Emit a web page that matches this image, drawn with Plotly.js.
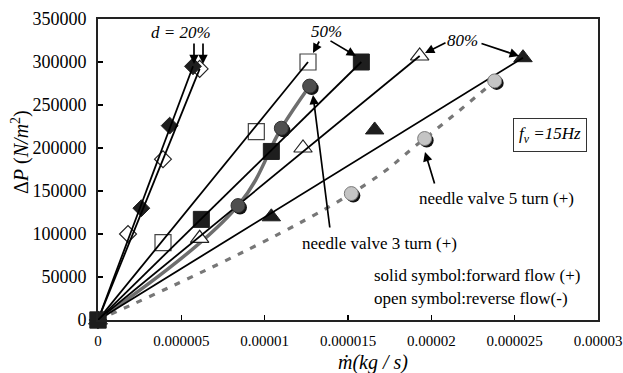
<!DOCTYPE html>
<html>
<head>
<meta charset="utf-8">
<script src="https://cdn.plot.ly/plotly-3.0.1.min.js"></script>
<style>
  html, body { margin: 0; padding: 0; background: #fff; }
  #chart { width: 623px; height: 373px; }
</style>
</head>
<body>
<div id="chart"></div>
<script>
// Pressure drop vs. mass flow rate, fv = 15 Hz
// d = 20 %, forward (solid) and reverse (open)
const d20FwdX = [0, 2.6e-6, 4.3e-6, 5.7e-6];
const d20FwdY = [0, 130000, 226000, 295000];
const d20RevX = [0, 1.8e-6, 3.9e-6, 6.1e-6];
const d20RevY = [0, 100000, 187000, 292000];
// d = 50 %
const d50FwdX = [0, 6.2e-6, 10.4e-6, 15.8e-6];
const d50FwdY = [0, 117000, 196000, 300000];
const d50RevX = [0, 3.9e-6, 9.5e-6, 12.6e-6];
const d50RevY = [0, 90000, 219000, 300000];
// d = 80 %
const d80FwdX = [0, 10.4e-6, 16.6e-6, 25.5e-6];
const d80FwdY = [0, 120000, 221000, 305000];
const d80RevX = [0, 6.1e-6, 12.3e-6, 19.3e-6];
const d80RevY = [0, 95000, 200000, 307000];
// needle valves, forward flow
const nv3X = [0, 8.4e-6, 11.0e-6, 12.7e-6];
const nv3Y = [0, 133000, 223000, 272000];
const nv5X = [0, 15.2e-6, 19.6e-6, 23.8e-6];
const nv5Y = [0, 147000, 211000, 278000];

const xTickVals = [0, 0.000005, 0.00001, 0.000015, 0.00002, 0.000025, 0.00003];
const xTickText = ['0', '0.000005', '0.00001', '0.000015', '0.00002', '0.000025', '0.00003'];
const yTickVals = [0, 50000, 100000, 150000, 200000, 250000, 300000, 350000];
const yTickText = ['0', '50000', '100000', '150000', '200000', '250000', '300000', '350000'];

const X_RANGE = [0, 0.00003];
const Y_RANGE = [0, 350000];

const SERIF = 'Liberation Serif, Times New Roman, Times, serif';
const DARK = '#1e1e1e';

// plot area in pixels
const PL = 98, PR = 598, PT = 19, PB = 320;
const px = p => (p - PL) / (PR - PL);
const py = p => (PB - p) / (PB - PT);

// shadow offset for the shaded circles (2 px right, 2 px down)
const dx = 2 / (PR - PL) * (X_RANGE[1] - X_RANGE[0]);
const dy = 2 / (PB - PT) * (Y_RANGE[1] - Y_RANGE[0]);

function markers(xs, ys, symbol, size, fill, lineColor, lineWidth) {
  return {
    type: 'scatter', mode: 'markers', x: xs, y: ys, cliponaxis: false,
    marker: { symbol: symbol, size: size, color: fill, line: { color: lineColor, width: lineWidth } },
    hoverinfo: 'skip'
  };
}
// straight line from the origin to the last measured point
function endLine(xs, ys) {
  return {
    type: 'scatter', mode: 'lines', cliponaxis: false,
    x: [xs[0], xs[xs.length - 1]], y: [ys[0], ys[ys.length - 1]],
    line: { color: '#000', width: 1.8 }, hoverinfo: 'skip'
  };
}
// dark offset copy drawn under a shaded circle (shifted axes x2/y2)
function shadow(xs, ys, size) {
  return {
    type: 'scatter', mode: 'markers', x: xs.slice(1), y: ys.slice(1),
    xaxis: 'x2', yaxis: 'y2', cliponaxis: false,
    marker: { symbol: 'circle', size: size, color: '#111' }, hoverinfo: 'skip'
  };
}
// shaded circle on the top layer (axes x3/y3 share the main ranges)
function circles(xs, ys, fill, edge) {
  const t = markers(xs.slice(1), ys.slice(1), 'circle', 14, fill, edge, 1);
  t.xaxis = 'x3'; t.yaxis = 'y3';
  return t;
}

const traces = [
  // needle valve 5 turn: dashed grey curve
  { type: 'scatter', mode: 'lines', x: nv5X, y: nv5Y, cliponaxis: false,
    line: { color: '#777', width: 3.2, dash: '6px,8px', shape: 'spline', smoothing: 1.3 }, hoverinfo: 'skip' },
  // needle valve 3 turn: solid grey curve
  { type: 'scatter', mode: 'lines', x: nv3X, y: nv3Y, cliponaxis: false,
    line: { color: '#6e6e6e', width: 3.5, shape: 'spline', smoothing: 1.1 }, hoverinfo: 'skip' },

  markers(d80RevX, d80RevY, 'triangle-up', 16, '#fff', '#222', 1.2),
  markers(d80FwdX, d80FwdY, 'triangle-up', 16, DARK, DARK, 1),
  markers(d50RevX, d50RevY, 'square', 16, '#fff', '#444', 1.2),
  markers(d20RevX, d20RevY, 'diamond', 13, '#fff', '#222', 1.2),
  markers(d20FwdX, d20FwdY, 'diamond', 13, DARK, DARK, 1),

  endLine(d80RevX, d80RevY),
  endLine(d80FwdX, d80FwdY),
  endLine(d50RevX, d50RevY),
  endLine(d20RevX, d20RevY),
  endLine(d20FwdX, d20FwdY),

  markers(d50FwdX, d50FwdY, 'square', 16, DARK, DARK, 1),
  endLine(d50FwdX, d50FwdY),

  shadow(nv5X, nv5Y, 14),
  shadow(nv3X, nv3Y, 14),
  circles(nv5X, nv5Y, '#c4c4c4', '#7a7a7a'),
  circles(nv3X, nv3Y, '#4f4f4f', '#333')
];

function label(text, x, y, size, anchor) {
  return {
    xref: 'paper', yref: 'paper', x: px(x), y: py(y), text: text, showarrow: false,
    xanchor: anchor || 'center', yanchor: 'middle',
    font: { family: SERIF, size: size, color: '#000' }
  };
}
function arrow(hx, hy, ax, ay) {
  return {
    xref: 'paper', yref: 'paper', x: px(hx), y: py(hy), ax: ax, ay: ay,
    text: '', showarrow: true, arrowhead: 2, arrowsize: 1.1, arrowwidth: 1.7, arrowcolor: '#000'
  };
}

const annotations = [
  label('<i>d = 20%</i>', 181, 33, 17),
  label('<i>50%</i>', 326, 32, 17),
  label('<i>80%</i>', 462, 40, 17),
  arrow(194, 64, 0, -22),
  arrow(203, 64, 0, -22),
  arrow(313, 53, 7, -13),
  arrow(356, 56, -27, -16),
  arrow(425, 53, 22, -11),
  arrow(519, 56, -39, -13),
  arrow(425, 152, 10, 33),
  arrow(313, 95, 17, 134),
  Object.assign(label('<i>f<sub>v</sub> =15Hz</i>', 550, 135, 17), {
    bordercolor: '#333', borderwidth: 1, borderpad: 5, bgcolor: '#fff'
  }),
  label('needle valve 5 turn (+)', 496, 199, 17),
  label('needle valve 3 turn (+)', 379, 243, 17),
  label('solid symbol:forward flow (+)', 372, 275, 17, 'left'),
  label('open symbol:reverse flow(-)', 372, 298, 17, 'left'),
  label('<i>ṁ(kg / s)</i>', 373, 362, 20),
  Object.assign(label('Δ<i>P</i> (<i>N/m</i><sup>2</sup>)', 20, 152, 20), { textangle: -90 })
];

const layout = {
  width: 623, height: 373,
  margin: { l: PL, r: 623 - PR, t: PT, b: 373 - PB },
  paper_bgcolor: '#fff', plot_bgcolor: '#fff',
  showlegend: false,
  font: { family: SERIF, color: '#000' },
  xaxis: {
    range: X_RANGE, tickvals: xTickVals, ticktext: xTickText,
    ticks: 'inside', ticklen: 5, tickwidth: 1.5, tickcolor: '#000',
    showline: true, linecolor: '#222', linewidth: 2, mirror: true,
    showgrid: false, zeroline: false, tickfont: { family: SERIF, size: 15 },
    ticklabelstandoff: 6
  },
  yaxis: {
    range: Y_RANGE, tickvals: yTickVals, ticktext: yTickText,
    ticks: 'inside', ticklen: 5, tickwidth: 1.5, tickcolor: '#000',
    showline: true, linecolor: '#222', linewidth: 2, mirror: true,
    showgrid: false, zeroline: false, tickfont: { family: SERIF, size: 18 },
    ticklabelstandoff: 6
  },
  xaxis2: { overlaying: 'x', range: [X_RANGE[0] - dx, X_RANGE[1] - dx], visible: false },
  yaxis2: { overlaying: 'y', range: [Y_RANGE[0] + dy, Y_RANGE[1] + dy], visible: false },
  xaxis3: { overlaying: 'x', range: X_RANGE, visible: false },
  yaxis3: { overlaying: 'y', range: Y_RANGE, visible: false },
  annotations: annotations
};

Plotly.newPlot('chart', traces, layout, { staticPlot: true, displayModeBar: false });
</script>
</body>
</html>
